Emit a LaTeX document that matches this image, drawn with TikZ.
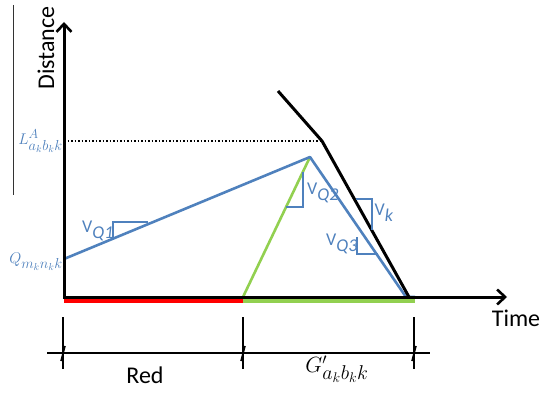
\RequirePackage{fix-cm}
\documentclass[tikz,border=0pt]{standalone}
\usepackage{fontspec}
\setmainfont{Carlito}
\usetikzlibrary{arrows.meta}
\newcommand\bsub[2]{\mbox{\fontsize{#1}{#1}\selectfont$#2$}}
\definecolor{ublue}{RGB}{79,129,189}
\definecolor{ugreen}{RGB}{146,208,80}
\definecolor{ured}{RGB}{255,0,0}
\tikzset{
  axis/.style={line width=3pt,-{Straight Barb[length=8pt,width=15pt,line width=2.6pt]}},
  bluel/.style={ublue,line width=2.6pt,line join=round},
  greenl/.style={ugreen,line width=2.6pt},
  blackl/.style={black,line width=3pt,line join=miter},
  bar/.style={line width=6pt},
  slope/.style={ublue,line width=1.2pt},
  dim/.style={black,line width=1.8pt},
  bigtxt/.style={font=\fontsize{24}{26}\selectfont},
  vlab/.style={text=ublue,font=\fontsize{18}{20}\selectfont,inner sep=0pt},
  mlab/.style={text=ublue,font=\fontsize{15.5}{18}\selectfont,inner sep=0pt}
}
\begin{document}
\begin{tikzpicture}[x=1pt,y=-1pt]
\useasboundingbox (0,0) rectangle (541,393);
% coordinates
\coordinate (O) at (64,297);
\coordinate (Ytop) at (64,22);
\coordinate (Xend) at (507,297);
\coordinate (B0) at (64,259);
\coordinate (Bpk) at (310,157);
\coordinate (Bend) at (406,297);
\coordinate (Bend2) at (415,297);
\coordinate (G0) at (243,297);
\coordinate (K0) at (278,91);
\coordinate (K1) at (322,141);
\coordinate (K2) at (409,297);
\coordinate (Ld) at (64,141);
\coordinate (Le) at (322,141);
\coordinate (R0) at (64,300);
\coordinate (R1) at (243,300);
\coordinate (R2) at (415,300);
% thin line at left
\coordinate (T0) at (13,5);
\coordinate (T1) at (13,195);
\draw[line width=0.8pt,black!80] (T0) -- (T1);
% bars
\draw[bar,ured] (R0) -- (R1);
\draw[bar,ugreen] (R1) -- (R2);
% dotted
\draw[line width=1.5pt,dotted] (Ld) -- (Le);
% lines
\draw[greenl] (G0) -- (Bpk);
\draw[bluel] (B0) -- (Bpk) -- (Bend) -- (Bend2);
\draw[blackl] (K0) -- (K1) -- (K2);
% axes
\draw[axis] (O) -- (Ytop);
\draw[axis] (63,297) -- (Xend);
% slope triangles
\draw[slope] (113,238) -- (113,222) -- (148,222);
\draw[slope] (303,172) -- (303,207) -- (286,207);
\draw[slope] (356,199) -- (372,199) -- (372,230);
\draw[slope] (357,237) -- (357,254) -- (378,254);
% labels
\node[bigtxt,rotate=90] (dist) at (46,48) {Distance};
\node[bigtxt] (time) at (516,318) {Time};
\node[mlab,anchor=east] (Llab) at (63,141) {$L^{\bsub{13}{A}}_{\bsub{14.5}{a_k b_k k}}$};
\node[mlab,anchor=east] (Qlab) at (63,262) {$Q_{\bsub{14.5}{m_k n_k k}}$};
\node[vlab] (v1) at (98,231) {V$_{\textit{Q1}}$};
\node[vlab] (v2) at (323,193) {V$_{\textit{Q2}}$};
\node[vlab] (vk) at (384,213) {V$_{\textit{k}}$};
\node[vlab] (v3) at (342,244) {V$_{\textit{Q3}}$};
% dimension line
\coordinate (D0) at (47,353);
\coordinate (D1) at (430,353);
\draw[dim] (D0) -- (D1);
\foreach \x/\n in {63/a,243/b,414/c}{
  \coordinate (t\n0) at (\x,317);
  \coordinate (t\n1) at (\x,369);
  \draw[dim] (t\n0) -- (t\n1);
  \draw[line width=1.6pt] (\x-2,361) -- (\x+2,346);
}
\node[bigtxt] (red) at (145,375) {Red};
\node[font=\fontsize{22}{26}\selectfont,inner sep=0pt] (glab) at (337,369) {$G'_{\bsub{20}{a_k b_k k}}$};
\end{tikzpicture}
\end{document}
